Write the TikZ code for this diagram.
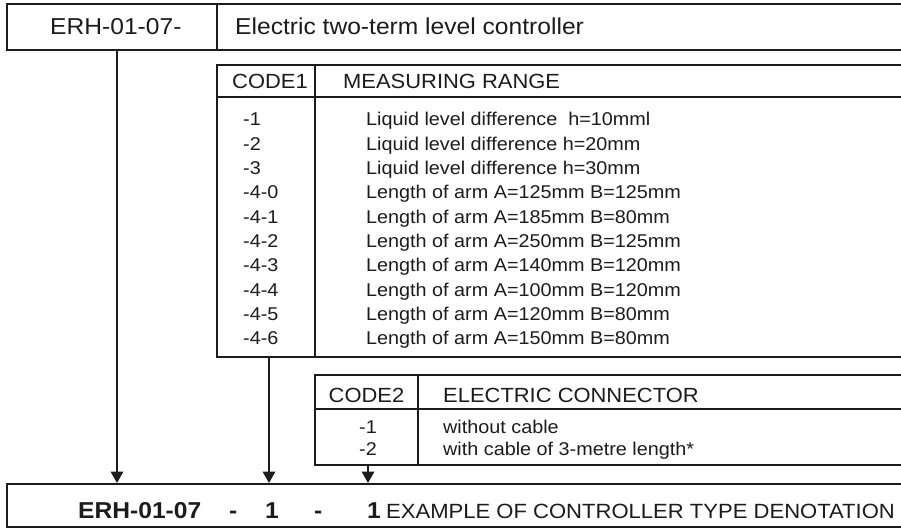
\documentclass[tikz,border=0pt]{standalone}
\usepackage{fontspec}
\setmainfont[FakeStretch=1.07]{Liberation Sans}
\usetikzlibrary{arrows.meta}
\definecolor{ink}{HTML}{1C1C1C}
\begin{document}
\begin{tikzpicture}[x=1pt,y=-1pt,
  box/.style={draw=ink,line width=2.1pt},
  thin/.style={draw=ink,line width=1.1pt},
  txt/.style={inner sep=0pt,anchor=base west,text=ink},
  ctxt/.style={inner sep=0pt,anchor=base,text=ink},
  arr/.style={draw=ink,line width=2pt,-{Triangle[length=11.5pt,width=12.5pt]}},
  ftitle/.style={font=\fontsize{23}{26}\selectfont},
  fhead/.style={font=\fontsize{20.5}{24}\selectfont},
  fex/.style={font=\fontsize{20.6}{24}\selectfont},
  frow/.style={font=\fontsize{18.5}{22}\selectfont},
]
\useasboundingbox (0,0) rectangle (901,529);
\clip (0,0) rectangle (901,529);
\fill[white] (0,0) rectangle (901,529);

% top box
\draw[box] (7,4) rectangle (915,50);
\draw[box] (217,4) -- (217,50);
\node[txt,ftitle] (t1) at (50,35) {ERH-01-07-};
\node[txt,ftitle] (t2) at (235,35) {Electric two-term level controller};
\coordinate (topout) at (117,50);

% CODE1 table
\draw[box] (217,65) rectangle (915,357);
\draw[thin] (217,97) -- (915,97);
\draw[thin] (315,65) -- (315,357);
\node[ctxt,fhead] (c1h) at (270,88.5) {CODE1};
\node[txt,fhead] (c1m) at (343,88.5) {MEASURING RANGE};
\foreach \i/\c/\t in {0/-1/{Liquid level difference\ \ h=10mml},
                      1/-2/{Liquid level difference h=20mm},
                      2/-3/{Liquid level difference h=30mm},
                      3/-4-0/{Length of arm A=125mm B=125mm},
                      4/-4-1/{Length of arm A=185mm B=80mm},
                      5/-4-2/{Length of arm A=250mm B=125mm},
                      6/-4-3/{Length of arm A=140mm B=120mm},
                      7/-4-4/{Length of arm A=100mm B=120mm},
                      8/-4-5/{Length of arm A=120mm B=80mm},
                      9/-4-6/{Length of arm A=150mm B=80mm}}{
  \node[txt,frow] (rc\i) at (243,{126+24.3*\i}) {\c};
  \node[txt,frow] (rt\i) at (366,{126+24.3*\i}) {\t};
}
\coordinate (c1out) at (269,357);

% CODE2 table
\draw[box] (315,375) rectangle (915,465);
\draw[thin] (315,409) -- (915,409);
\draw[thin] (418,375) -- (418,465);
\node[ctxt,fhead] (c2h) at (366.5,402) {CODE2};
\node[txt,fhead] (c2m) at (443,402) {ELECTRIC CONNECTOR};
\node[ctxt,frow] (c2r1) at (368,433.5) {-1};
\node[ctxt,frow] (c2r2) at (368,455.5) {-2};
\node[txt,frow] (c2t1) at (443,433.5) {without cable};
\node[txt,frow] (c2t2) at (443,455.5) {with cable of 3-metre length*};
\coordinate (c2out) at (368,465);

% bottom box
\draw[box] (7,484) rectangle (915,527);
\node[txt,ftitle] (b1) at (78,518) {\bfseries ERH-01-07};
\node[txt,ftitle] (b2) at (229,518) {\bfseries -};
\node[txt,ftitle] (b3) at (265,518) {\bfseries 1};
\node[txt,ftitle] (b4) at (314,518) {\bfseries -};
\node[txt,ftitle] (b5) at (367,518) {\bfseries 1};
\node[txt,fex] (b6) at (386,518) {EXAMPLE OF CONTROLLER TYPE DENOTATION};
\coordinate (bin1) at (117,483);
\coordinate (bin2) at (269,483);
\coordinate (bin3) at (368,483);

% arrows
\draw[arr] (topout) -- (bin1);
\draw[arr] (c1out) -- (bin2);
\draw[arr] (c2out) -- (bin3);
\end{tikzpicture}
\end{document}
